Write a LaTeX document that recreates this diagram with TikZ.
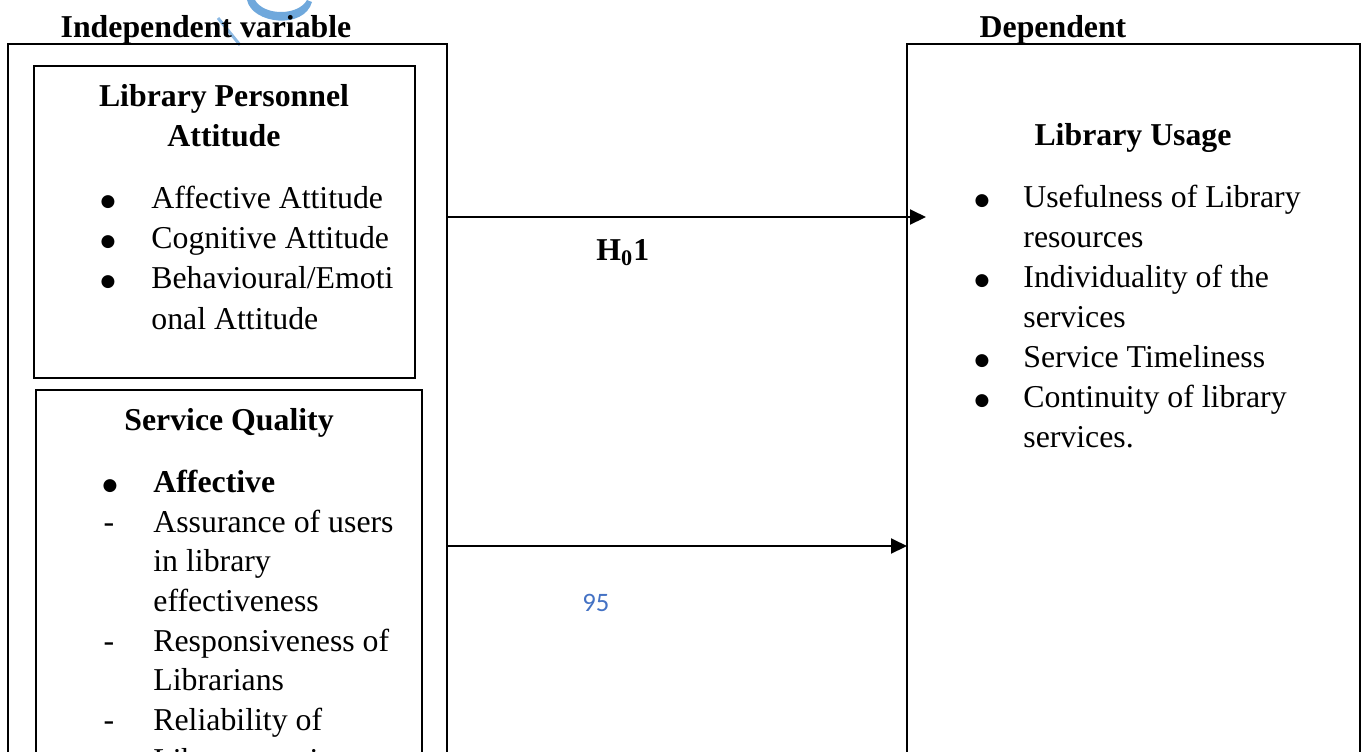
\documentclass[tikz,border=0pt]{standalone}
\usepackage{fontspec}
\setmainfont{Liberation Serif}
\newfontfamily\calibrifont{Carlito}
\newfontfamily\dejavu{DejaVu Sans}
\usetikzlibrary{arrows.meta,fit}
\definecolor{pageblue}{RGB}{68,114,196}
\definecolor{swooshblue}{RGB}{111,168,220}
\tikzset{
  box/.style={draw, line width=1pt, inner sep=0pt, outer sep=0pt},
  txt/.style={inner sep=0pt, anchor=base west, font=\fontsize{15.9pt}{20pt}\selectfont},
  btxt/.style={txt, font=\fontsize{15.9pt}{20pt}\selectfont\bfseries},
  head/.style={inner sep=0pt, anchor=base, font=\fontsize{15.9pt}{20pt}\selectfont\bfseries},
  bul/.style={inner sep=0pt, anchor=base, yshift=1pt, font=\dejavu\fontsize{8.5pt}{10pt}\selectfont},
  dsh/.style={inner sep=0pt, anchor=base, font=\fontsize{15.9pt}{20pt}\selectfont},
  arr/.style={line width=1pt, -{Triangle[length=8pt,width=7.5pt]}},
  pagenum/.style={inner sep=0pt, anchor=base west, text=pageblue, font=\calibrifont\fontsize{13.3pt}{16pt}\selectfont},
}
\newcommand{\blt}{●}
\begin{document}
\begin{tikzpicture}[x=0.5pt,y=-0.5pt]
\useasboundingbox (0,0) rectangle (1364,751);
\clip (0,0) rectangle (1364,751);

% decorative swoosh
\fill[swooshblue] (247,0) .. controls (252,24) and (304,30) .. (312,2) -- (307,0) .. controls (298,16) and (264,16) .. (255,0) -- cycle;
\draw[swooshblue!80, line width=1.5pt] (218,18) -- (240,45);

% headings above boxes
\node[head] (indep) at (206,37) {Independent variable};
\node[head] (depl) at (1053,37) {Dependent};

% boxes
\coordinate (o1) at (8,44);   \coordinate (o2) at (447,800);
\node[box, fit=(o1)(o2)] (outer) {};
\coordinate (p1) at (34,66);  \coordinate (p2) at (415,378);
\node[box, fit=(p1)(p2)] (lpa) {};
\coordinate (s1) at (36,390); \coordinate (s2) at (422,800);
\node[box, fit=(s1)(s2)] (sq) {};
\coordinate (d1) at (907,44); \coordinate (d2) at (1360,800);
\node[box, fit=(d1)(d2)] (dep) {};

% Library Personnel Attitude
\node[head] (lpah1) at (224,106) {Library Personnel};
\node[head] (lpah2) at (224,146) {Attitude};
\node[bul] (lb1) at (108,208) {\blt};
\node[txt] (lt1) at (151,208) {Affective Attitude};
\node[bul] (lb2) at (108,248) {\blt};
\node[txt] (lt2) at (151,248) {Cognitive Attitude};
\node[bul] (lb3) at (108,288) {\blt};
\node[txt] (lt3) at (151,288) {Behavioural/Emoti};
\node[txt] (lt4) at (151,329) {onal Attitude};

% Service Quality
\node[head] (sqh) at (229,430) {Service Quality};
\node[bul] (sb1) at (110,492) {\blt};
\node[btxt] (st1) at (153,492) {Affective};
\node[dsh] (sd1) at (109,532) {-};
\node[txt] (st2) at (153,532) {Assurance of users};
\node[txt] (st3) at (153,571) {in library};
\node[txt] (st4) at (153,611) {effectiveness};
\node[dsh] (sd2) at (109,651) {-};
\node[txt] (st5) at (153,651) {Responsiveness of};
\node[txt] (st6) at (153,690) {Librarians};
\node[dsh] (sd3) at (109,730) {-};
\node[txt] (st7) at (153,730) {Reliability of};
\node[txt] (st8) at (153,770) {Library services};

% Library Usage
\node[head] (luh) at (1133,145) {Library Usage};
\node[bul] (rb1) at (982,207) {\blt};
\node[txt] (rt1) at (1023,207) {Usefulness of Library};
\node[txt] (rt2) at (1023,247) {resources};
\node[bul] (rb2) at (982,287) {\blt};
\node[txt] (rt3) at (1023,287) {Individuality of the};
\node[txt] (rt4) at (1023,327) {services};
\node[bul] (rb3) at (982,367) {\blt};
\node[txt] (rt5) at (1023,367) {Service Timeliness};
\node[bul] (rb4) at (982,407) {\blt};
\node[txt] (rt6) at (1023,407) {Continuity of library};
\node[txt] (rt7) at (1023,447) {services.};

% connectors
\coordinate (a1) at (0,217);
\coordinate (a1e) at (926,217);
\draw[arr] (outer.east |- a1) -- (a1e);
\coordinate (a2) at (0,546);
\draw[arr] (outer.east |- a2) -- (dep.west |- a2);

% labels
\node[txt, font=\fontsize{15.9pt}{20pt}\selectfont\bfseries] (h01) at (596,260) {H\textsubscript{0}1};
\node[pagenum] (pg) at (582,611) {95};
\end{tikzpicture}
\end{document}
